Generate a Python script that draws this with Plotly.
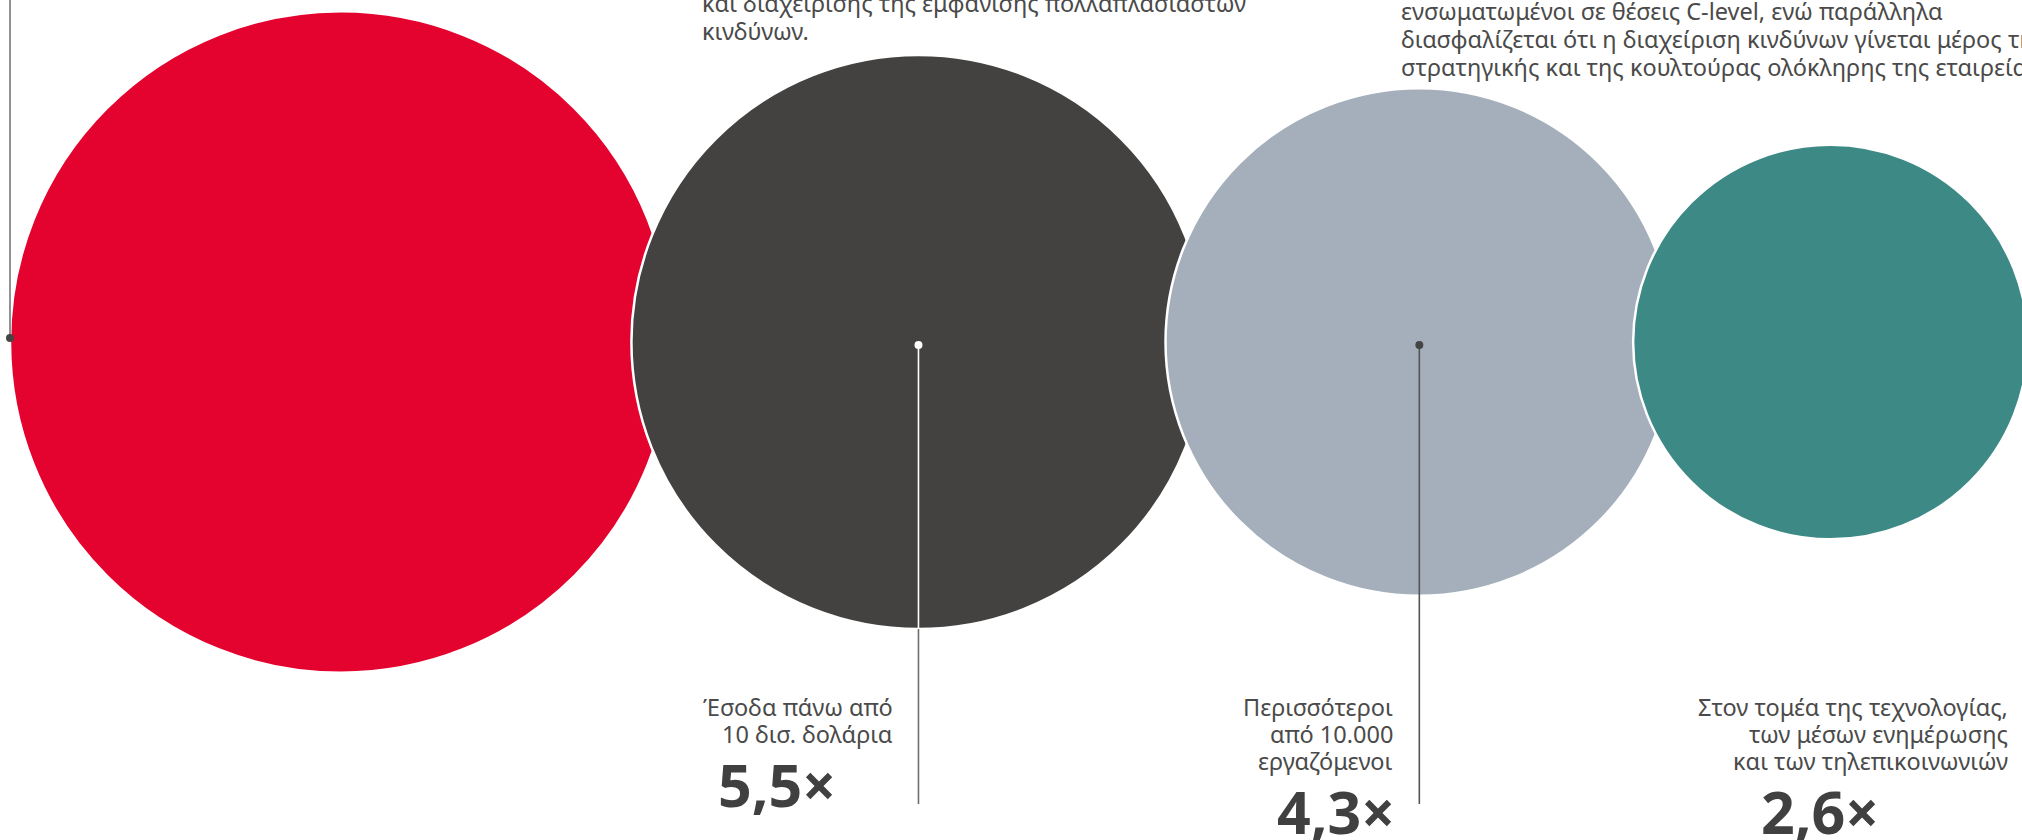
import plotly.graph_objects as go

# ---------------- data ----------------
categories = ["Σύνολο", "Έσοδα", "Εργαζόμενοι", "Τομέας"]
values = [7.3, 5.5, 4.3, 2.6]
colors = ["#E4032E", "#434240", "#A4AFBB", "#3C8985"]
label_lines = [
    [],
    ["Έσοδα πάνω από", "10 δισ. δολάρια"],
    ["Περισσότεροι", "από 10.000", "εργαζόμενοι"],
    ["Στον τομέα της τεχνολογίας,", "των μέσων ενημέρωσης", "και των τηλεπικοινωνιών"],
]
top_left_text = ["και διαχείρισης της εμφάνισης πολλαπλασιαστών", "κινδύνων."]
top_right_text = [
    "ενσωματωμένοι σε θέσεις C-level, ενώ παράλληλα",
    "διασφαλίζεται ότι η διαχείριση κινδύνων γίνεται μέρος της",
    "στρατηγικής και της κουλτούρας ολόκληρης της εταιρείας.",
]

# ---------------- layout constants ----------------
W, H = 2022, 840
K = 122.4            # px radius per sqrt(unit)
CY = 342
LEFT = 10
OVERLAP = 40
LINE_END = 804
FONT = "Noto Sans"
TXT = "#4a4a4a"
NUM = "#404040"

radii = [K * v ** 0.5 for v in values]
cx = []
for i, r in enumerate(radii):
    if i == 0:
        cx.append(LEFT + r)
    else:
        cx.append(cx[-1] + radii[i - 1] + r - OVERLAP)

fig = go.Figure()

# circles
fig.add_trace(go.Scatter(
    x=cx, y=[CY] * len(values), mode="markers",
    marker=dict(size=values, sizemode="area", sizeref=1 / (2 * K * K),
                color=colors, line=dict(color="white", width=2.5), opacity=1),
    hoverinfo="skip", showlegend=False,
))

# leader lines
def seg(x0, y0, x1, y1, color, width=1.6):
    fig.add_trace(go.Scatter(x=[x0, x1], y=[y0, y1], mode="lines",
                             line=dict(color=color, width=width),
                             hoverinfo="skip", showlegend=False))

def dot(x, y, color):
    fig.add_trace(go.Scatter(x=[x], y=[y], mode="markers",
                             marker=dict(size=8, color=color),
                             hoverinfo="skip", showlegend=False))

# red: line from top to left edge of circle
xr = cx[0] - radii[0]
seg(xr, 0, xr, CY - 4, "#777777")
dot(xr, CY - 4, "#444444")
# dark: white inside, grey outside
seg(cx[1], CY + 3, cx[1], CY + radii[1], "#ffffff")
seg(cx[1], CY + radii[1], cx[1], LINE_END, "#6e6e6e")
dot(cx[1], CY + 3, "#ffffff")
# grey
seg(cx[2], CY + 3, cx[2], LINE_END, "#555555")
dot(cx[2], CY + 3, "#444444")

ann = []

def text(x, y, s, size=23, color=TXT, anchor="left", bold=False):
    ann.append(dict(x=x, y=y, xref="x", yref="y", text=("<b>%s</b>" % s) if bold else s,
                    showarrow=False, xanchor=anchor, yanchor="middle",
                    font=dict(family=FONT, size=size, color=color)))

# top paragraphs
for i, s in enumerate(top_left_text):
    text(700, 3 + 28 * i, s, size=23.5)
for i, s in enumerate(top_right_text):
    text(1399, 10.5 + 28.3 * i, s, size=23.5)

# bottom labels
label_right = [None, cx[1] - 23, cx[2] - 24, 2010]
num_center = [None, 777, 1336, 1820]
for i in range(1, 4):
    for j, s in enumerate(label_lines[i]):
        text(label_right[i], 707 + 27 * j, s, size=23.5, anchor="right")
    ny = 707 + 27 * len(label_lines[i]) + 23
    num = ("%.1f" % values[i]).replace(".", ",") + "×"
    text(num_center[i], ny, num, size=59, color=NUM, anchor="center", bold=True)

fig.update_layout(
    width=W, height=H, margin=dict(l=0, r=0, t=0, b=0),
    paper_bgcolor="white", plot_bgcolor="white",
    xaxis=dict(range=[0, W], visible=False, fixedrange=True),
    yaxis=dict(range=[H, 0], visible=False, fixedrange=True),
    annotations=ann, showlegend=False,
)

fig.write_html("out.html", config={"displayModeBar": False},
               post_script="document.body.style.margin='0';document.body.style.padding='0';")
